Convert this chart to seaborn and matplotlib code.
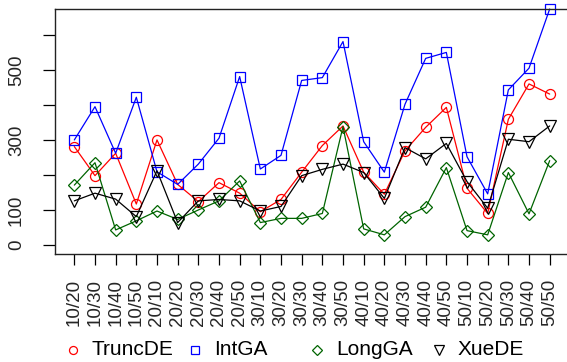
import matplotlib
matplotlib.use("Agg")
import matplotlib.pyplot as plt
from matplotlib.lines import Line2D
import seaborn as sns
import pandas as pd
import numpy as np

# Problem configurations (population / dimension)
configs = ["10/20", "10/30", "10/40", "10/50", "20/10", "20/20", "20/30", "20/40",
           "20/50", "30/10", "30/20", "30/30", "30/40", "30/50", "40/10", "40/20",
           "40/30", "40/40", "40/50", "50/10", "50/20", "50/30", "50/40", "50/50"]

trunc_de = [281, 198, 262, 117, 300, 173, 124, 178, 148, 95, 130, 208,
            284, 340, 208, 145, 269, 336, 393, 162, 90, 359, 460, 431]
int_ga = [300, 395, 262, 422, 209, 173, 231, 305, 481, 217, 256, 470,
          478, 581, 295, 208, 402, 533, 550, 252, 146, 443, 505, 674]
long_ga = [171, 235, 43, 69, 97, 73, 100, 126, 183, 64, 76, 76,
           90, 338, 46, 29, 81, 108, 221, 41, 29, 207, 89, 241]
xue_de = [126, 148, 131, 81, 212, 64, 126, 130, 126, 97, 110, 198,
          216, 231, 207, 133, 278, 246, 290, 181, 105, 302, 295, 340]

series_names = ["TruncDE", "IntGA", "LongGA", "XueDE"]
series_values = [trunc_de, int_ga, long_ga, xue_de]
colors = ["#ff0000", "#0000ff", "#006400", "#000000"]
markers = ["o", "s", "D", "v"]
marker_sizes = [7.2, 6.6, 6.2, 8.2]

y_ticks = [0, 100, 200, 300, 400, 500, 600]
y_tick_labels = ["0", "100", "", "300", "", "500", ""]

sns.set_style("ticks")
plt.rcParams["font.family"] = ["Liberation Sans", "DejaVu Sans"]

W, H = 567, 362
fig = plt.figure(figsize=(W / 100, H / 100), dpi=100)
left, right, top, bottom = 55.3, 568.7, 9.0, 254.3
ax = fig.add_axes([left / W, (H - bottom) / H, (right - left) / W, (bottom - top) / H])

x = np.arange(len(configs))
frames = []
for name, vals in zip(series_names, series_values):
    frames.append(pd.DataFrame({"idx": x, "config": configs, "value": vals, "method": name}))
df = pd.concat(frames, ignore_index=True)

for name, col, mk, ms in zip(series_names, colors, markers, marker_sizes):
    sub = df[df["method"] == name]
    sns.lineplot(data=sub, x="idx", y="value", ax=ax, color=col, linewidth=0.9,
                 marker=mk, markersize=ms, markerfacecolor="none",
                 markeredgecolor=col, markeredgewidth=0.9, clip_on=False,
                 legend=False)

ax.set_xlim(-0.92, len(configs) - 1 + 0.92)
ax.set_ylim(-26.6, 674)
ax.set_xlabel("")
ax.set_ylabel("")

ax.set_xticks(x)
ax.set_xticklabels(configs, rotation=90, fontsize=13.5, va="top", ha="center")
ax.set_yticks(y_ticks)
ax.set_yticklabels(y_tick_labels, rotation=90, fontsize=13.5, va="center")
ax.tick_params(axis="x", length=8, width=0.9, pad=9.5, color="black")
ax.tick_params(axis="y", length=8.8, width=0.9, pad=13, color="black")

for sp in ax.spines.values():
    sp.set_visible(True)
    sp.set_linewidth(1.0)
    sp.set_color("#222222")

# Horizontal legend row under the axis labels, evenly spaced entries
legend_y = 1 - 349.5 / H
for i, (name, col, mk, ms) in enumerate(zip(series_names, colors, markers, marker_sizes)):
    mx = (73.3 + 122.0 * i) / W
    fig.add_artist(Line2D([mx], [legend_y], transform=fig.transFigure,
                          marker=mk, markersize=ms * 0.8, markerfacecolor="none",
                          markeredgecolor=col, markeredgewidth=0.9, linestyle="none"))
    fig.text(mx + 18.5 / W, legend_y, name, fontsize=15, va="center", ha="left",
             color="black")

fig.savefig("out.png", dpi=100)
